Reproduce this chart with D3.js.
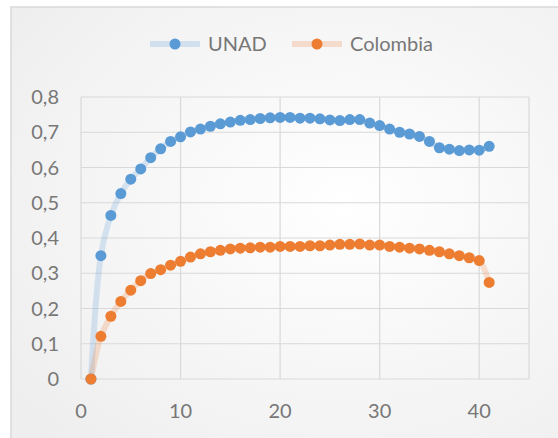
<!DOCTYPE html>
<html>
<head>
<meta charset="utf-8">
<script src="https://cdn.jsdelivr.net/npm/d3@7"></script>
<style>
  html, body { margin: 0; padding: 0; background: #ffffff; }
  #chart { width: 558px; height: 438px; }
</style>
</head>
<body>
<div id="chart"></div>
<script>
// Chart data
const xValues = d3.range(1, 42);
const unad = [0, 0.350, 0.464, 0.526, 0.567, 0.596, 0.628, 0.653, 0.674, 0.687,
  0.701, 0.709, 0.717, 0.724, 0.729, 0.734, 0.736, 0.739, 0.741, 0.742,
  0.742, 0.740, 0.740, 0.738, 0.735, 0.733, 0.736, 0.736, 0.726, 0.719,
  0.709, 0.700, 0.695, 0.688, 0.674, 0.656, 0.652, 0.648, 0.650, 0.649, 0.660];
const colombia = [0, 0.121, 0.178, 0.220, 0.252, 0.279, 0.299, 0.310, 0.323, 0.334,
  0.346, 0.355, 0.361, 0.365, 0.369, 0.371, 0.372, 0.374, 0.374, 0.376,
  0.376, 0.376, 0.378, 0.378, 0.380, 0.382, 0.382, 0.383, 0.380, 0.380,
  0.376, 0.374, 0.371, 0.369, 0.365, 0.361, 0.355, 0.350, 0.344, 0.336, 0.274];
const yTicks = [0, 0.1, 0.2, 0.3, 0.4, 0.5, 0.6, 0.7, 0.8];
const xTicks = [0, 10, 20, 30, 40];
const seriesNames = ["UNAD", "Colombia"];
const seriesColors = ["#5B9BD5", "#ED7D31"];

const width = 558, height = 438;
const margin = { top: 97, right: 29, bottom: 59, left: 81 };
const fontFamily = "Lato, 'Open Sans', sans-serif";
const textColor = "#777777";

const svg = d3.select("#chart").append("svg")
  .attr("width", width)
  .attr("height", height);

// Background gradient inside the chart frame
const defs = svg.append("defs");
const grad = defs.append("radialGradient")
  .attr("id", "bg")
  .attr("cx", "60%").attr("cy", "45%").attr("r", "75%");
grad.append("stop").attr("offset", "0%").attr("stop-color", "#ffffff");
grad.append("stop").attr("offset", "100%").attr("stop-color", "#eeeeee");

svg.append("rect")
  .attr("x", 11).attr("y", 7)
  .attr("width", width).attr("height", height)
  .attr("fill", "url(#bg)")
  .attr("stroke", "#d9d9d9")
  .attr("stroke-width", 1.5);

const x = d3.scaleLinear().domain([0, 45]).range([margin.left, width - margin.right]);
const y = d3.scaleLinear().domain([0, 0.8]).range([height - margin.bottom, margin.top]);

// Gridlines
const grid = svg.append("g");
grid.selectAll("line.h").data(yTicks).enter().append("line")
  .attr("x1", x(0)).attr("x2", x(45))
  .attr("y1", d => y(d)).attr("y2", d => y(d))
  .attr("stroke", "#d9d9d9").attr("stroke-width", 1.2);
grid.selectAll("line.v").data(xTicks.concat([45])).enter().append("line")
  .attr("x1", d => x(d)).attr("x2", d => x(d))
  .attr("y1", y(0)).attr("y2", y(0.8))
  .attr("stroke", "#d9d9d9").attr("stroke-width", 1.2);

// Axes labels
svg.append("g").selectAll("text").data(yTicks).enter().append("text")
  .attr("x", x(0) - 22)
  .attr("y", d => y(d))
  .attr("dy", "0.35em")
  .attr("text-anchor", "end")
  .attr("font-family", fontFamily)
  .attr("font-size", 20)
  .attr("fill", textColor)
  .text(d => d3.format(".1f")(d).replace(".", ",").replace(/^0,0$/, "0"));

svg.append("g").selectAll("text").data(xTicks).enter().append("text")
  .attr("x", d => x(d))
  .attr("y", y(0) + 32)
  .attr("dy", "0.35em")
  .attr("text-anchor", "middle")
  .attr("font-family", fontFamily)
  .attr("font-size", 20)
  .attr("fill", textColor)
  .text(d => d);

// Series
const allSeries = [unad, colombia];
const line = d3.line()
  .x((d, i) => x(xValues[i]))
  .y(d => y(d))
  .curve(d3.curveCatmullRom.alpha(0.5));

allSeries.forEach((vals, s) => {
  svg.append("path")
    .datum(vals)
    .attr("d", line)
    .attr("fill", "none")
    .attr("stroke", seriesColors[s])
    .attr("stroke-opacity", 0.22)
    .attr("stroke-width", 6)
    .attr("stroke-linecap", "round");
});

allSeries.forEach((vals, s) => {
  svg.append("g").selectAll("circle").data(vals).enter().append("circle")
    .attr("cx", (d, i) => x(xValues[i]))
    .attr("cy", d => y(d))
    .attr("r", 5.5)
    .attr("fill", seriesColors[s]);
});

// Legend
const legendX = [150, 292];
const legend = svg.append("g");
seriesNames.forEach((name, s) => {
  const lx = legendX[s];
  legend.append("line")
    .attr("x1", lx).attr("x2", lx + 50)
    .attr("y1", 44).attr("y2", 44)
    .attr("stroke", seriesColors[s])
    .attr("stroke-opacity", 0.22)
    .attr("stroke-width", 6);
  legend.append("circle")
    .attr("cx", lx + 25).attr("cy", 44).attr("r", 5.5)
    .attr("fill", seriesColors[s]);
  legend.append("text")
    .attr("x", lx + 58).attr("y", 44)
    .attr("dy", "0.35em")
    .attr("font-family", fontFamily)
    .attr("font-size", 20)
    .attr("fill", textColor)
    .text(name);
});
</script>
</body>
</html>
